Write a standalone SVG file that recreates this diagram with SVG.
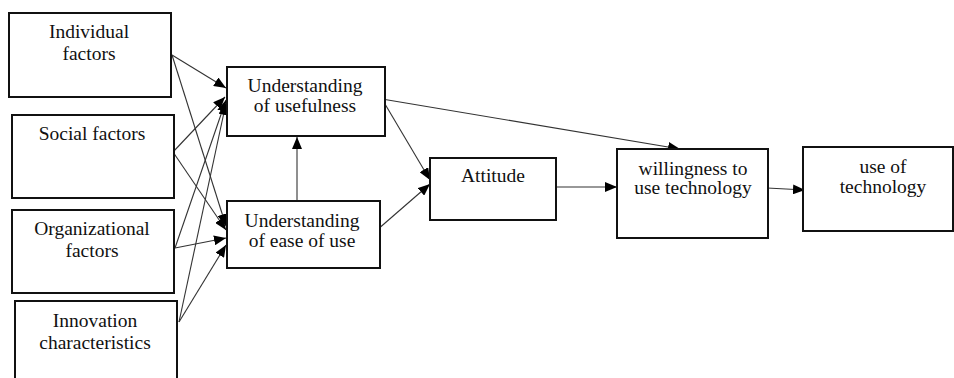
<svg xmlns="http://www.w3.org/2000/svg" width="954" height="378" viewBox="0 0 954 378">
<style>
.box{fill:#fff;stroke:#111;stroke-width:2}
text{font-family:'Liberation Serif','Times New Roman',serif;font-size:19.5px;fill:#111;text-anchor:middle}
.c{fill:none;stroke:#333;stroke-width:1.1}
</style>
<defs>
<marker id="ah" viewBox="0 0 12 10" refX="12" refY="5" markerWidth="12" markerHeight="10" markerUnits="userSpaceOnUse" orient="auto">
<path d="M0,0 L12,5 L0,10 Z" fill="#000"/>
</marker>
</defs>
<rect width="954" height="378" fill="#fff"/>
<g id="connectors">
<line class="c" x1="172" y1="55" x2="226" y2="88" marker-end="url(#ah)"/>
<line class="c" x1="172" y1="55" x2="226" y2="226" marker-end="url(#ah)"/>
<line class="c" x1="173" y1="152" x2="225" y2="97" marker-end="url(#ah)"/>
<line class="c" x1="173" y1="152" x2="226" y2="230" marker-end="url(#ah)"/>
<line class="c" x1="175" y1="248" x2="226" y2="100" marker-end="url(#ah)"/>
<line class="c" x1="175" y1="248" x2="226" y2="238" marker-end="url(#ah)"/>
<line class="c" x1="179" y1="322" x2="226" y2="103" marker-end="url(#ah)"/>
<line class="c" x1="179" y1="322" x2="226" y2="245" marker-end="url(#ah)"/>
<line class="c" x1="297" y1="201" x2="297" y2="137" marker-end="url(#ah)"/>
<line class="c" x1="382" y1="99" x2="430" y2="180" marker-end="url(#ah)"/>
<line class="c" x1="382" y1="99" x2="680" y2="149" marker-end="url(#ah)"/>
<line class="c" x1="377" y1="230" x2="430" y2="184" marker-end="url(#ah)"/>
<line class="c" x1="552" y1="187" x2="617" y2="187" marker-end="url(#ah)"/>
<line class="c" x1="767" y1="188" x2="805" y2="190" marker-end="url(#ah)"/>
</g>
<g id="individual">
<rect class="box" x="9" y="13" width="162" height="84"/>
<text x="89" y="38">Individual</text>
<text x="89" y="60">factors</text>
</g>
<g id="social">
<rect class="box" x="12" y="115" width="162" height="83"/>
<text x="92" y="140">Social factors</text>
</g>
<g id="organizational">
<rect class="box" x="12" y="210" width="162" height="83"/>
<text x="92" y="235">Organizational</text>
<text x="92" y="257">factors</text>
</g>
<g id="innovation">
<rect class="box" x="15" y="301" width="162" height="82"/>
<text x="95" y="327">Innovation</text>
<text x="95" y="349">characteristics</text>
</g>
<g id="usefulness">
<rect class="box" x="227" y="67" width="158" height="69"/>
<text x="305" y="92">Understanding</text>
<text x="305" y="112">of usefulness</text>
</g>
<g id="ease">
<rect class="box" x="227" y="201" width="153" height="67"/>
<text x="302" y="227">Understanding</text>
<text x="302" y="247">of ease of use</text>
</g>
<g id="attitude">
<rect class="box" x="430" y="158" width="126" height="62"/>
<text x="493" y="182">Attitude</text>
</g>
<g id="willingness">
<rect class="box" x="617" y="149" width="151" height="89"/>
<text x="693" y="175">willingness to</text>
<text x="693" y="194">use technology</text>
</g>
<g id="use">
<rect class="box" x="803" y="147" width="150" height="84"/>
<text x="883" y="173">use of</text>
<text x="883" y="193">technology</text>
</g>
</svg>
